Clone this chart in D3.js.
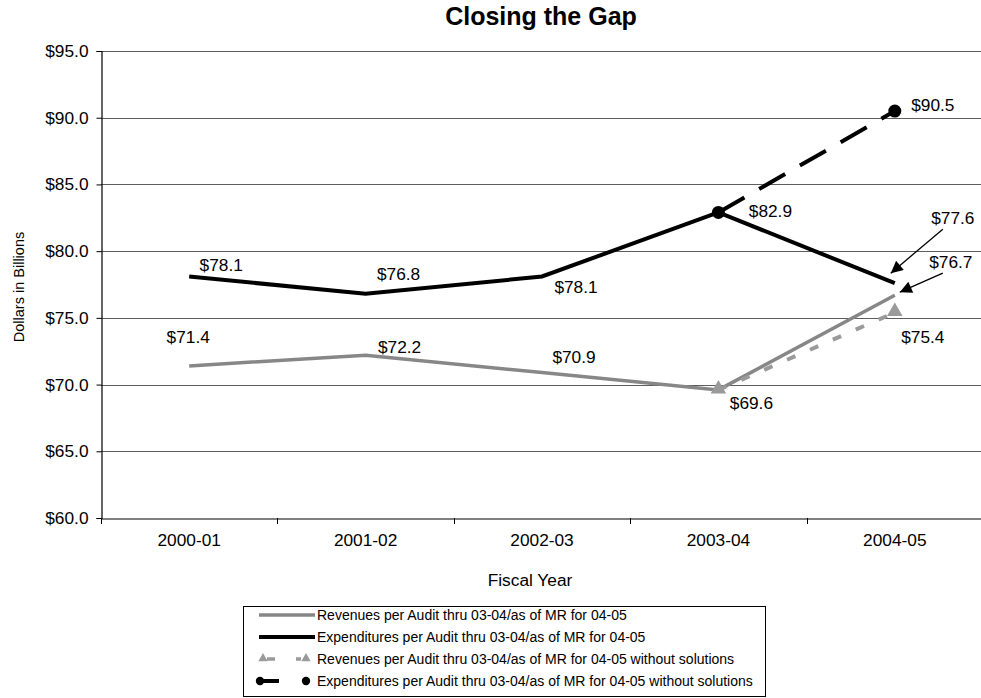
<!DOCTYPE html>
<html>
<head>
<meta charset="utf-8">
<script src="https://cdn.jsdelivr.net/npm/d3@7"></script>
<style>
  html, body { margin: 0; padding: 0; background: #fff; }
  svg { display: block; font-family: "Liberation Sans", Arial, sans-serif; }
</style>
</head>
<body>
<svg id="chart" width="981" height="698"></svg>
<script>
// Fiscal years on the x axis
const categories = ["2000-01", "2001-02", "2002-03", "2003-04", "2004-05"];

// Values in billions of dollars
const revenues = [71.4, 72.2, 70.9, 69.6, 76.7];
const expenditures = [78.1, 76.8, 78.1, 82.9, 77.6];
const revenuesNoSolutions = [null, null, null, 69.6, 75.4];
const expendituresNoSolutions = [null, null, null, 82.9, 90.5];

// Y axis ticks
const yTicks = [60, 65, 70, 75, 80, 85, 90, 95];

const legendLabels = [
  "Revenues per Audit thru 03-04/as of MR for 04-05",
  "Expenditures per Audit thru 03-04/as of MR for 04-05",
  "Revenues per Audit thru 03-04/as of MR for 04-05 without solutions",
  "Expenditures per Audit thru 03-04/as of MR for 04-05 without solutions"
];

const svg = d3.select("#chart");
const plot = { left: 101, right: 983, top: 51, bottom: 518 };
const fs = 17.3;

const x = d3.scaleBand().domain(categories).range([plot.left, plot.right]).padding(0);
const cx = c => x(c) + x.bandwidth() / 2;
const y = d3.scaleLinear().domain([60, 95]).range([plot.bottom, plot.top]);

// Title
svg.append("text")
  .attr("x", 541).attr("y", 25)
  .attr("text-anchor", "middle")
  .attr("font-size", 25).attr("font-weight", "bold")
  .text("Closing the Gap");

// Horizontal gridlines
svg.append("g")
  .selectAll("line")
  .data(yTicks.filter(t => t !== 60))
  .join("line")
  .attr("x1", plot.left).attr("x2", plot.right)
  .attr("y1", d => Math.round(y(d)) + 0.5).attr("y2", d => Math.round(y(d)) + 0.5)
  .attr("stroke", "#5e5e5e").attr("stroke-width", 1.1);

// Y axis
const yAxis = svg.append("g")
  .attr("transform", `translate(${plot.left + 0.5},0)`)
  .call(d3.axisLeft(y).tickValues(yTicks).tickSize(5).tickPadding(8)
    .tickFormat(d => "$" + d.toFixed(1)));
yAxis.select(".domain").attr("stroke", "#000").attr("stroke-width", 1.2);
yAxis.selectAll(".tick line").attr("stroke", "#000");
yAxis.selectAll(".tick text")
  .attr("font-family", "Liberation Sans, Arial, sans-serif")
  .attr("font-size", fs).attr("fill", "#000");

// X axis (labels centred in each band, ticks on band edges)
const xAxis = svg.append("g")
  .attr("transform", `translate(0,${plot.bottom + 0.5})`)
  .call(d3.axisBottom(x).tickSize(0).tickPadding(15));
xAxis.select(".domain").attr("stroke", "#000").attr("stroke-width", 1.2);
xAxis.selectAll(".tick text")
  .attr("font-family", "Liberation Sans, Arial, sans-serif")
  .attr("font-size", fs).attr("fill", "#000");
svg.append("g")
  .selectAll("line")
  .data(categories)
  .join("line")
  .attr("x1", d => Math.round(x(d)) + 0.5).attr("x2", d => Math.round(x(d)) + 0.5)
  .attr("y1", plot.bottom).attr("y2", plot.bottom + 6)
  .attr("stroke", "#000");

// Axis titles
svg.append("text")
  .attr("x", 530).attr("y", 586)
  .attr("text-anchor", "middle")
  .attr("font-size", fs)
  .text("Fiscal Year");
svg.append("text")
  .attr("transform", "translate(24,287) rotate(-90)")
  .attr("text-anchor", "middle")
  .attr("font-size", 14.5)
  .text("Dollars in Billions");

// Series lines
const lineGen = d3.line()
  .defined(d => d.v != null)
  .x(d => cx(d.c))
  .y(d => y(d.v));
const pts = arr => arr.map((v, i) => ({ c: categories[i], v }));

const series = [
  { values: revenues, color: "#878787", width: 3.5, dash: null },
  { values: revenuesNoSolutions, color: "#9a9a9a", width: 4, dash: "9,16" },
  { values: expendituresNoSolutions, color: "#000", width: 4, dash: "30,17" },
  { values: expenditures, color: "#000", width: 4, dash: null }
];
series.forEach(s => {
  svg.append("path")
    .datum(pts(s.values))
    .attr("d", lineGen)
    .attr("fill", "none")
    .attr("stroke", s.color)
    .attr("stroke-width", s.width)
    .attr("stroke-dasharray", s.dash);
});

// Markers
const triangle = d3.symbol().type(d3.symbolTriangle);
svg.append("g")
  .selectAll("path")
  .data(pts(revenuesNoSolutions).filter(d => d.v != null))
  .join("path")
  .attr("transform", d => `translate(${cx(d.c)},${y(d.v) - 1})`)
  .attr("d", triangle.size(105))
  .attr("fill", "#9a9a9a");
svg.append("g")
  .selectAll("circle")
  .data(pts(expendituresNoSolutions).filter(d => d.v != null))
  .join("circle")
  .attr("cx", d => cx(d.c)).attr("cy", d => y(d.v))
  .attr("r", 6.5)
  .attr("fill", "#000");

// Data labels, offsets from each point
const fmt = v => "$" + v.toFixed(1);
const labelOffsets = {
  expenditures: [[32, -11], [33, -20], [34, 11], [52, -1], [58, -65]],
  revenues: [[-1, -29], [34, -8], [32, -16], [33, 13], [56, -33]],
  revenuesNoSolutions: [null, null, null, null, [28, 24]],
  expendituresNoSolutions: [null, null, null, null, [38, -6]]
};
const labelData = [];
[["expenditures", expenditures], ["revenues", revenues],
 ["revenuesNoSolutions", revenuesNoSolutions],
 ["expendituresNoSolutions", expendituresNoSolutions]].forEach(([key, arr]) => {
  arr.forEach((v, i) => {
    const off = labelOffsets[key][i];
    if (v != null && off) labelData.push({ x: cx(categories[i]) + off[0], y: y(v) + off[1], v });
  });
});
svg.append("g")
  .selectAll("text")
  .data(labelData)
  .join("text")
  .attr("x", d => d.x).attr("y", d => d.y)
  .attr("text-anchor", "middle")
  .attr("dominant-baseline", "central")
  .attr("font-size", fs)
  .text(d => fmt(d.v));

// Callout arrows for the 2004-05 values
svg.append("defs").append("marker")
  .attr("id", "arrowhead")
  .attr("viewBox", "0 0 10 10")
  .attr("refX", 10).attr("refY", 5)
  .attr("markerWidth", 15).attr("markerHeight", 12)
  .attr("markerUnits", "userSpaceOnUse")
  .attr("orient", "auto")
  .append("path")
  .attr("d", "M0,0 L10,5 L0,10 Z")
  .attr("fill", "#000");
const last = categories.length - 1;
const arrows = [
  { px: cx(categories[last]), py: y(expenditures[last]), from: [48, -54], to: [-4, -10] },
  { px: cx(categories[last]), py: y(revenues[last]), from: [48, -22], to: [5, -3] }
];
svg.append("g")
  .selectAll("line")
  .data(arrows)
  .join("line")
  .attr("x1", d => d.px + d.from[0]).attr("y1", d => d.py + d.from[1])
  .attr("x2", d => d.px + d.to[0]).attr("y2", d => d.py + d.to[1])
  .attr("stroke", "#000").attr("stroke-width", 1.3)
  .attr("marker-end", "url(#arrowhead)");

// Legend
const lg = svg.append("g");
lg.append("rect")
  .attr("x", 243.5).attr("y", 606.5)
  .attr("width", 522).attr("height", 90)
  .attr("fill", "#fff").attr("stroke", "#000").attr("stroke-width", 1);
const rowY = i => 615 + i * 22;
legendLabels.forEach((label, i) => {
  lg.append("text")
    .attr("x", 317).attr("y", rowY(i))
    .attr("dominant-baseline", "central")
    .attr("font-size", 14)
    .text(label);
});
// Solid samples
lg.append("line").attr("x1", 259).attr("x2", 315).attr("y1", rowY(0)).attr("y2", rowY(0))
  .attr("stroke", "#878787").attr("stroke-width", 3.5);
lg.append("line").attr("x1", 259).attr("x2", 315).attr("y1", rowY(1)).attr("y2", rowY(1))
  .attr("stroke", "#000").attr("stroke-width", 4);
// Dashed revenue sample with triangles
lg.append("line").attr("x1", 267).attr("x2", 301).attr("y1", rowY(2)).attr("y2", rowY(2))
  .attr("stroke", "#9a9a9a").attr("stroke-width", 3.5).attr("stroke-dasharray", "8,21");
[263, 306].forEach(px => {
  lg.append("path")
    .attr("transform", `translate(${px},${rowY(2) - 0.5})`)
    .attr("d", d3.symbol().type(d3.symbolTriangle).size(38)())
    .attr("fill", "#9a9a9a");
});
// Dashed expenditure sample with circles
lg.append("line").attr("x1", 260).attr("x2", 306).attr("y1", rowY(3)).attr("y2", rowY(3))
  .attr("stroke", "#000").attr("stroke-width", 4).attr("stroke-dasharray", "19,40");
[260, 306].forEach(px => {
  lg.append("circle").attr("cx", px).attr("cy", rowY(3)).attr("r", 4.2).attr("fill", "#000");
});
</script>
</body>
</html>
